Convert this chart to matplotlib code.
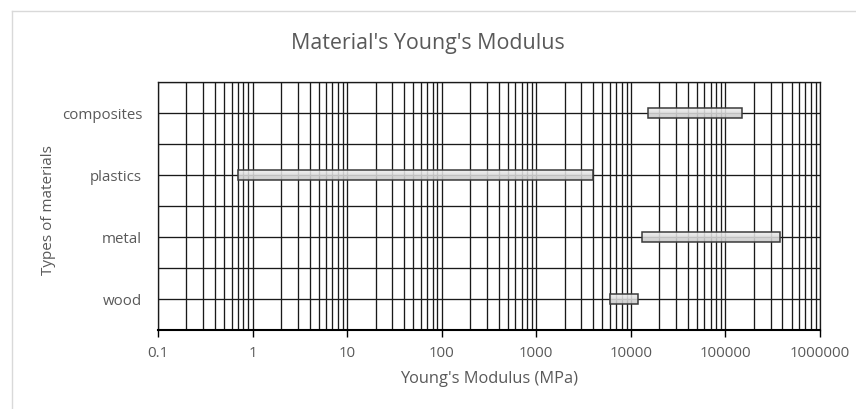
import numpy as np
import matplotlib
matplotlib.use("Agg")
import matplotlib.pyplot as plt
from matplotlib.ticker import LogLocator, FixedLocator, NullFormatter
from matplotlib.lines import Line2D

plt.rcParams['font.family'] = ['Open Sans', 'DejaVu Sans']

# Data
categories = ['wood', 'metal', 'plastics', 'composites']
low_mpa = [6000, 13000, 0.7, 15000]
high_mpa = [12000, 380000, 4000, 150000]
x_ticks = [0.1, 1, 10, 100, 1000, 10000, 100000, 1000000]
x_tick_labels = ['0.1', '1', '10', '100', '1000', '10000', '100000', '1000000']

TEXT = '#595959'
GRID = '#1a1a1a'

fig = plt.figure(figsize=(8.56, 4.10), dpi=100)
ax = fig.add_axes([158 / 856, 79 / 410, 662 / 856, 248 / 410])

ax.set_xscale('log')
ax.set_xlim(x_ticks[0], x_ticks[-1])
ypos = np.arange(len(categories))
ax.set_ylim(-0.5, len(categories) - 0.5)

# grid
ax.xaxis.set_major_locator(FixedLocator(x_ticks))
ax.set_xticklabels(x_tick_labels)
ax.xaxis.set_minor_locator(LogLocator(base=10, subs=np.arange(2, 10)))
ax.xaxis.set_minor_formatter(NullFormatter())
ax.set_yticks(ypos, categories)
ax.set_yticks(np.arange(-0.5, len(categories)), minor=True)
ax.grid(True, which='major', axis='both', color=GRID, lw=0.95)
ax.grid(True, which='minor', axis='both', color=GRID, lw=0.95)
ax.set_axisbelow(True)

# bars with vertical gradient
bar_h = 0.17
n_strips = 12
light = np.array([0.95, 0.95, 0.95])
dark = np.array([0.76, 0.76, 0.76])
lows = np.array(low_mpa, dtype=float)
widths = np.array(high_mpa, dtype=float) - lows
for k in range(n_strips):
    t = k / (n_strips - 1)
    col = light * (1 - t) + dark * t
    y_off = bar_h / 2 - (k + 0.5) * bar_h / n_strips
    ax.barh(ypos + y_off, widths, left=lows, height=bar_h / n_strips * 1.02,
            color=col, alpha=0.88, lw=0, zorder=3)
ax.barh(ypos, widths, left=lows, height=bar_h, fill=False,
        edgecolor='#3a3a3a', lw=1.1, zorder=4)

# spines / ticks
for s in ['top', 'right', 'left']:
    ax.spines[s].set_color(GRID)
    ax.spines[s].set_linewidth(0.95)
ax.spines['bottom'].set_color('#000000')
ax.spines['bottom'].set_linewidth(1.5)
ax.tick_params(axis='x', which='major', direction='out', length=5, width=1,
               color='#000000', labelcolor=TEXT, labelsize=10.8, pad=6)
ax.tick_params(axis='x', which='minor', length=0)
ax.tick_params(axis='y', which='both', length=0, labelcolor=TEXT,
               labelsize=10.8, pad=11.5)

ax.set_xlabel("Young's Modulus (MPa)", color=TEXT, fontsize=11.8, labelpad=7)
fig.text(48 / 856, 1 - 210 / 410, 'Types of materials', color=TEXT,
         fontsize=11, rotation=90, ha='center', va='center')
fig.text(428 / 856, 1 - 43 / 410, "Material's Young's Modulus", color=TEXT,
         fontsize=15.4, ha='center', va='center')

# chart area border (left and top visible)
fig.add_artist(Line2D([11.5 / 856, 11.5 / 856], [0, 1 - 12 / 410],
                      transform=fig.transFigure, color='#d9d9d9', lw=1))
fig.add_artist(Line2D([11.5 / 856, 1], [1 - 12 / 410, 1 - 12 / 410],
                      transform=fig.transFigure, color='#d9d9d9', lw=1))

fig.savefig('out.png', dpi=100)
